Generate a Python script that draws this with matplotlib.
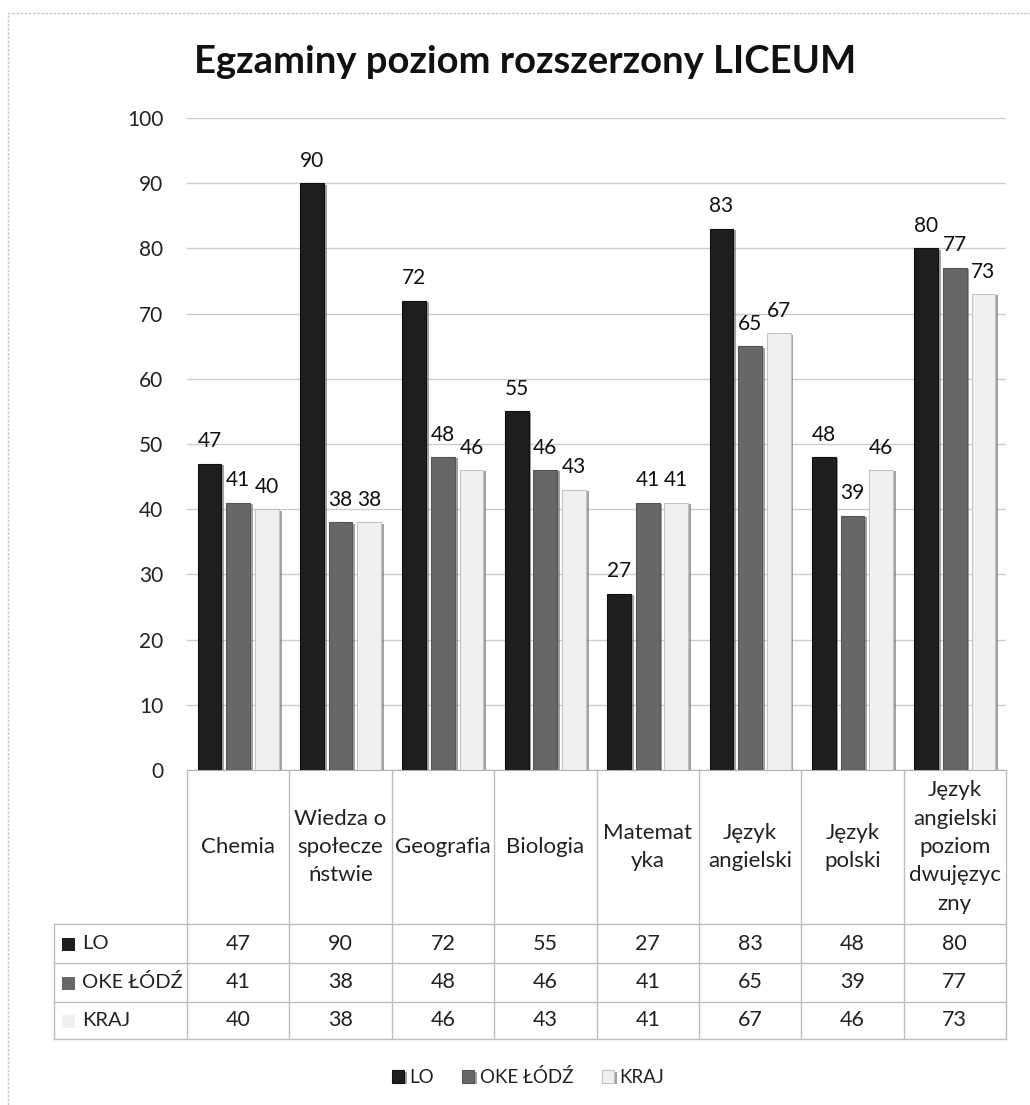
import numpy as np
import matplotlib.pyplot as plt
import matplotlib.patheffects as pe
from matplotlib.patches import Rectangle
from matplotlib.lines import Line2D

plt.rcParams['font.family'] = ['Lato', 'DejaVu Sans']

# data
categories = ['Chemia', 'Wiedza o\nspołecze\nństwie', 'Geografia', 'Biologia',
              'Matemat\nyka', 'Język\nangielski', 'Język\npolski',
              'Język\nangielski\npoziom\ndwujęzyc\nzny']
series = ['LO', 'OKE ŁÓDŹ', 'KRAJ']
lo = [47, 90, 72, 55, 27, 83, 48, 80]
oke = [41, 38, 48, 46, 41, 65, 39, 77]
kraj = [40, 38, 46, 43, 41, 67, 46, 73]
values = [lo, oke, kraj]
colors = ['#1e1e1e', '#676767', '#f0f0f0']
edges = ['#101010', '#555555', '#c4c4c4']

W, H = 1030, 1105
fig = plt.figure(figsize=(W / 100, H / 100), dpi=100)


def fx(x):
    return x / W


def fy(y):
    return 1 - y / H


# plot area in pixels
L, R, T, B = 187, 1006, 118, 770
ax = fig.add_axes([fx(L), fy(B), fx(R) - fx(L), fy(T) - fy(B)])

n = len(categories)
x = np.arange(n)
step, width = 0.28, 0.232
shadow = [pe.SimplePatchShadow(offset=(2, -1), shadow_rgbFace='#666666', alpha=0.6), pe.Normal()]
handles = []
for i, (vals, c, ec) in enumerate(zip(values, colors, edges)):
    bars = ax.bar(x + (i - 1) * step, vals, width, color=c, edgecolor=ec, linewidth=0.8,
                  label=series[i], zorder=3)
    for b in bars:
        b.set_path_effects(shadow)
    handles.append(bars[0])
    for xi, v in zip(x + (i - 1) * step, vals):
        ax.annotate(str(v), (xi, v), xytext=(0, 9), textcoords='offset points',
                    ha='center', va='bottom', fontsize=15, color='#111111')

ax.set_xlim(-0.5, n - 0.5)
ax.set_ylim(0, 100)
ax.set_yticks(range(0, 101, 10))
ax.tick_params(axis='y', length=0, pad=17, labelsize=15, labelcolor='#222222')
ax.set_xticks([])
ax.grid(axis='y', color='#cccccc', linewidth=1, zorder=0)
for s in ['top', 'right', 'left']:
    ax.spines[s].set_visible(False)
ax.spines['bottom'].set_color('#b0b0b0')

# title
fig.text(fx(525), fy(62), 'Egzaminy poziom rozszerzony LICEUM', ha='center', va='center',
         fontsize=27.5, fontweight='bold', color='#111111')

# data table
line_kw = dict(color='#bdbdbd', linewidth=1, transform=fig.transFigure)
rows_y = [924, 963, 1002, 1039]
col_x = [L + k * (R - L) / n for k in range(n + 1)]
for cxp in col_x:
    fig.add_artist(Line2D([fx(cxp), fx(cxp)], [fy(B), fy(1039)], **line_kw))
fig.add_artist(Line2D([fx(54), fx(54)], [fy(924), fy(1039)], **line_kw))
for ry in rows_y:
    fig.add_artist(Line2D([fx(54), fx(R)], [fy(ry), fy(ry)], **line_kw))

for k, cat in enumerate(categories):
    cxp = (col_x[k] + col_x[k + 1]) / 2
    fig.text(fx(cxp), fy(847), cat, ha='center', va='center', fontsize=16,
             linespacing=1.53, color='#222222')
    for r, vals in enumerate(values):
        cyp = (rows_y[r] + rows_y[r + 1]) / 2
        fig.text(fx(cxp), fy(cyp), str(vals[k]), ha='center', va='center',
                 fontsize=15.5, color='#222222')

for r, name in enumerate(series):
    cyp = (rows_y[r] + rows_y[r + 1]) / 2
    fig.add_artist(Rectangle((fx(62), fy(cyp + 7)), fx(13), 13 / H, transform=fig.transFigure,
                             facecolor=colors[r], edgecolor='none'))
    fig.text(fx(82), fy(cyp), name, ha='left', va='center', fontsize=14.5, color='#222222')

# legend
fig.legend(handles=handles, labels=series, loc='center', bbox_to_anchor=(fx(528), fy(1077)),
           ncol=3, frameon=False, fontsize=13.5, handlelength=0.65, handleheight=0.65,
           handletextpad=0.3, columnspacing=1.5, labelcolor='#222222')

# outer frame
fig.add_artist(Rectangle((fx(8), fy(1120)), fx(1040), (1120 - 13) / H, transform=fig.transFigure,
                         facecolor='none', edgecolor='#c8c8c8', linewidth=1, linestyle=(0, (2, 1))))

fig.savefig('out.png', dpi=100)
